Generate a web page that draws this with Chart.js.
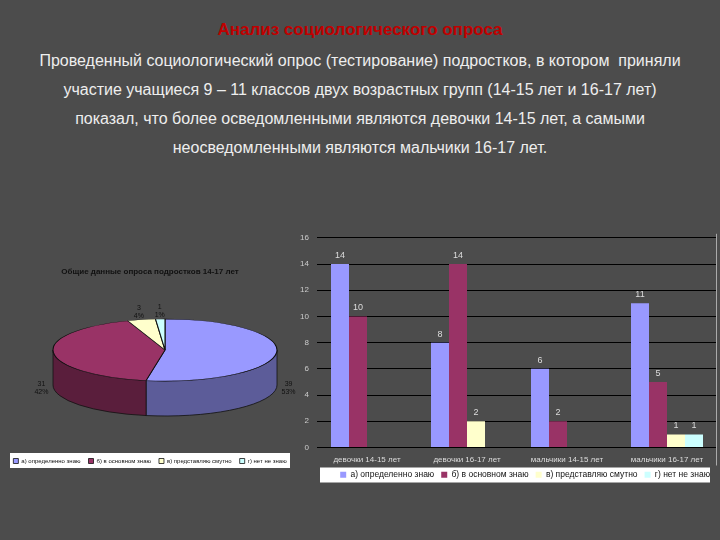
<!DOCTYPE html>
<html>
<head>
<meta charset="utf-8">
<script src="https://cdn.jsdelivr.net/npm/chart.js@4.4.1/dist/chart.umd.min.js"></script>
<style>
  html, body { margin: 0; padding: 0; background: #4c4c4c; width: 720px; height: 540px; overflow: hidden;
    font-family: "Liberation Sans", Arial, sans-serif; }
  #head { position: absolute; left: 0; top: 20px; width: 720px; text-align: center; color: #c00000;
    font-weight: bold; font-size: 17px; }
  #text { position: absolute; left: 0; top: 46px; width: 720px; text-align: center; color: #eeeeee;
    font-size: 16px; line-height: 29px; }
  #pieBox { position: absolute; left: 0; top: 225px; width: 300px; height: 255px; }
  #barBox { position: absolute; left: 285px; top: 225px; width: 435px; height: 264px; }
</style>
</head>
<body>
<div id="head">Анализ социологического опроса</div>
<div id="text">
  <div>Проведенный социологический опрос (тестирование) подростков, в котором&nbsp; приняли</div>
  <div>участие учащиеся 9 – 11 классов двух возрастных групп (14-15 лет и 16-17 лет)</div>
  <div>показал, что более осведомленными являются девочки 14-15 лет, а самыми</div>
  <div>неосведомленными являются мальчики 16-17 лет.</div>
</div>
<div id="pieBox"><canvas id="pie" width="300" height="255"></canvas></div>
<div id="barBox"><canvas id="bar" width="435" height="264"></canvas></div>

<script>
// data
const categories = ['девочки 14-15 лет', 'девочки 16-17 лет', 'мальчики 14-15 лет', 'мальчики 16-17 лет'];
const answers = ['а) определенно знаю', 'б) в основном знаю', 'в) представляю смутно', 'г) нет не знаю'];
const answerA = [14, 8, 6, 11];
const answerB = [10, 14, 2, 5];
const answerC = [0, 2, 0, 1];
const answerD = [0, 0, 0, 1];
const pieValues = [39, 31, 3, 1];
const piePercents = ['53%', '42%', '4%', '1%'];

const colors = ['#9999ff', '#993366', '#ffffcc', '#ccffff'];
const sideColors = ['#5c5c99', '#5a1e3c', '#99997a', '#7a9999'];
const FONT = '"Liberation Sans", Arial, sans-serif';

// where the tilted pie sits on its canvas
const tilt = { cx: 165, cy: 125, rx: 112, ry: 31, depth: 35 };

const tiltPlugin = {
  id: 'tilt',
  beforeDraw(chart) {
    const lg = chart.legend;
    const ctx = chart.ctx;
    ctx.save();
    ctx.fillStyle = '#ffffff';
    ctx.fillRect(10, lg.top + 3, chart.width - 20, 15);
    ctx.restore();
  },
  beforeDatasetsDraw(chart) {
    const ctx = chart.ctx;
    const arcs = chart.getDatasetMeta(0).data;
    // side wall, only the front half shows
    arcs.forEach((arc, i) => {
      const s = Math.max(arc.startAngle, 0);
      const e = Math.min(arc.endAngle, Math.PI);
      if (e <= s) return;
      ctx.save();
      ctx.beginPath();
      ctx.ellipse(tilt.cx, tilt.cy, tilt.rx, tilt.ry, 0, s, e);
      ctx.ellipse(tilt.cx, tilt.cy + tilt.depth, tilt.rx, tilt.ry, 0, e, s, true);
      ctx.closePath();
      ctx.fillStyle = sideColors[i];
      ctx.fill();
      ctx.strokeStyle = '#111';
      ctx.lineWidth = 0.8;
      ctx.stroke();
      ctx.restore();
    });
    const a = arcs[0];
    ctx.save();
    ctx.translate(tilt.cx, tilt.cy);
    ctx.scale(tilt.rx / a.outerRadius, tilt.ry / a.outerRadius);
    ctx.translate(-a.x, -a.y);
  },
  afterDatasetsDraw(chart) {
    const ctx = chart.ctx;
    ctx.restore();
    const arcs = chart.getDatasetMeta(0).data;
    ctx.save();
    ctx.fillStyle = '#111';
    ctx.font = '7px ' + FONT;
    ctx.textAlign = 'center';
    ctx.textBaseline = 'middle';
    arcs.forEach((arc, i) => {
      const mid = (arc.startAngle + arc.endAngle) / 2;
      const sn = Math.sin(mid);
      const x = tilt.cx + (tilt.rx + 12) * Math.cos(mid);
      const y = tilt.cy + (tilt.ry + 8) * sn + (sn > 0 ? tilt.depth : 0);
      ctx.fillText(String(chart.data.datasets[0].data[i]), x, y - 4);
      ctx.fillText(piePercents[i], x, y + 4);
    });
    ctx.restore();
  }
};

new Chart(document.getElementById('pie'), {
  type: 'pie',
  data: {
    labels: answers,
    datasets: [{
      data: pieValues,
      backgroundColor: colors,
      borderColor: '#111',
      borderWidth: 0.8,
      clip: false
    }]
  },
  options: {
    responsive: false,
    animation: false,
    devicePixelRatio: 1,
    layout: { padding: { bottom: 6 } },
    plugins: {
      title: {
        display: true,
        text: 'Общие данные опроса подростков 14-17 лет',
        color: '#111',
        font: { size: 8, weight: 'bold', family: FONT },
        padding: { top: 42, bottom: 10 }
      },
      legend: {
        position: 'bottom',
        labels: {
          color: '#111',
          boxWidth: 5,
          boxHeight: 5,
          padding: 8,
          font: { size: 6, family: FONT }
        }
      },
      tooltip: { enabled: false }
    }
  },
  plugins: [tiltPlugin]
});

const barPlugin = {
  id: 'barExtras',
  beforeDraw(chart) {
    const lg = chart.legend;
    const ctx = chart.ctx;
    ctx.save();
    ctx.fillStyle = '#ffffff';
    ctx.fillRect(chart.chartArea.left + 3, lg.top + 4, chart.chartArea.right - chart.chartArea.left - 10, 15);
    ctx.restore();
  },
  afterDatasetsDraw(chart) {
    const ctx = chart.ctx;
    ctx.save();
    ctx.fillStyle = '#dddddd';
    ctx.font = '9px ' + FONT;
    ctx.textAlign = 'center';
    ctx.textBaseline = 'bottom';
    chart.data.datasets.forEach((ds, di) => {
      chart.getDatasetMeta(di).data.forEach((bar, i) => {
        if (ds.data[i] > 0) ctx.fillText(String(ds.data[i]), bar.x, bar.y - 4);
      });
    });
    // right edge line
    ctx.strokeStyle = '#aaaaaa';
    ctx.lineWidth = 1;
    ctx.beginPath();
    ctx.moveTo(chart.chartArea.right - 0.5, chart.chartArea.top - 4);
    ctx.lineTo(chart.chartArea.right - 0.5, chart.legend.top + 2);
    ctx.stroke();
    ctx.restore();
  }
};

new Chart(document.getElementById('bar'), {
  type: 'bar',
  data: {
    labels: categories,
    datasets: [
      { label: answers[0], data: answerA, backgroundColor: colors[0] },
      { label: answers[1], data: answerB, backgroundColor: colors[1] },
      { label: answers[2], data: answerC, backgroundColor: colors[2] },
      { label: answers[3], data: answerD, backgroundColor: colors[3] }
    ]
  },
  options: {
    responsive: false,
    animation: false,
    devicePixelRatio: 1,
    layout: { padding: { top: 12, right: 3, bottom: 0 } },
    datasets: { bar: { categoryPercentage: 0.72, barPercentage: 1, borderWidth: 0 } },
    scales: {
      x: {
        afterFit(scale) { scale.height = 16; },
        grid: { display: false, drawTicks: false },
        border: { display: false },
        ticks: { color: '#dddddd', padding: 7, font: { size: 8, family: FONT } }
      },
      y: {
        min: 0,
        max: 16,
        afterFit(scale) { scale.width = 32; },
        grid: { color: '#000000', lineWidth: 1, drawTicks: false },
        border: { display: false },
        ticks: { stepSize: 2, color: '#cccccc', padding: 8, font: { size: 8, family: FONT } }
      }
    },
    plugins: {
      legend: {
        position: 'bottom',
        align: 'end',
        labels: {
          color: '#111',
          boxWidth: 6,
          boxHeight: 6,
          padding: 7,
          font: { size: 8.5, family: FONT }
        }
      },
      tooltip: { enabled: false }
    }
  },
  plugins: [barPlugin]
});
</script>
</body>
</html>
